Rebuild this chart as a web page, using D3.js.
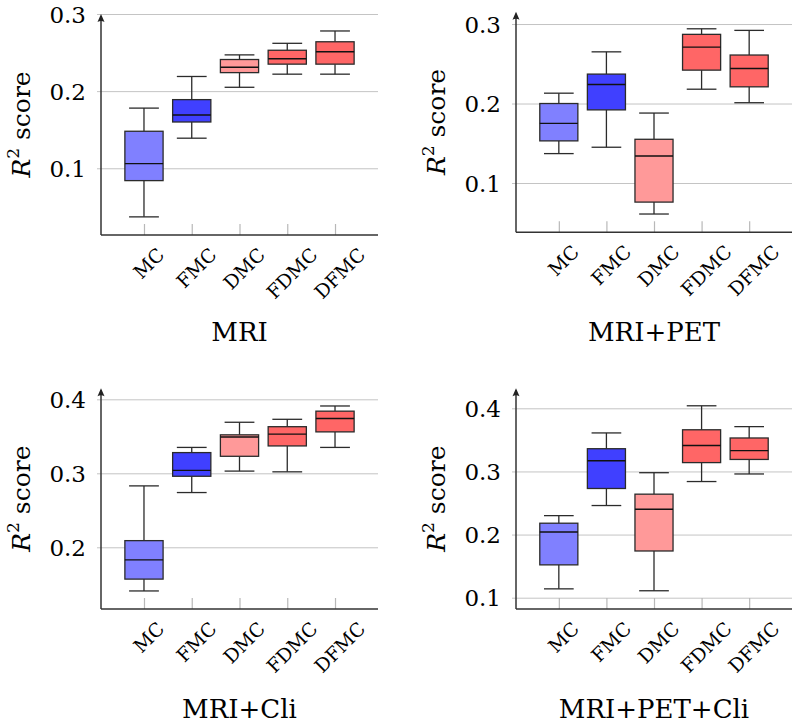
<!DOCTYPE html>
<html>
<head>
<meta charset="utf-8">
<script src="https://cdn.jsdelivr.net/npm/d3@7"></script>
<style>
  body { margin: 0; background: #fff; }
  svg { display: block; }
  svg text { font-family: "DejaVu Serif", "Liberation Serif", "Noto Serif", serif !important; fill: #000; }
</style>
</head>
<body>
<svg id="chart" width="800" height="724"></svg>
<script>
// ---------- data ----------
const categories = ["MC", "FMC", "DMC", "FDMC", "DFMC"];
const panelTitles = ["MRI", "MRI+PET", "MRI+Cli", "MRI+PET+Cli"];
// each entry: [lower whisker, Q1, median, Q3, upper whisker]
const mriStats = [
  [0.037, 0.084, 0.106, 0.148, 0.178],
  [0.139, 0.160, 0.169, 0.189, 0.219],
  [0.205, 0.224, 0.231, 0.241, 0.247],
  [0.222, 0.235, 0.242, 0.253, 0.262],
  [0.222, 0.235, 0.251, 0.264, 0.278]
];
const mriPetStats = [
  [0.137, 0.153, 0.175, 0.200, 0.213],
  [0.145, 0.192, 0.224, 0.237, 0.265],
  [0.061, 0.076, 0.134, 0.155, 0.188],
  [0.218, 0.242, 0.271, 0.287, 0.294],
  [0.201, 0.221, 0.244, 0.261, 0.292]
];
const mriCliStats = [
  [0.141, 0.157, 0.183, 0.209, 0.283],
  [0.274, 0.296, 0.304, 0.328, 0.335],
  [0.303, 0.323, 0.349, 0.352, 0.369],
  [0.302, 0.337, 0.353, 0.363, 0.373],
  [0.335, 0.356, 0.374, 0.384, 0.391]
];
const mriPetCliStats = [
  [0.114, 0.152, 0.204, 0.218, 0.230],
  [0.246, 0.273, 0.317, 0.336, 0.361],
  [0.111, 0.174, 0.240, 0.264, 0.298],
  [0.284, 0.314, 0.341, 0.366, 0.404],
  [0.296, 0.319, 0.333, 0.353, 0.371]
];
const yTicks1 = [0.1, 0.2, 0.3];
const yTicks2 = [0.1, 0.2, 0.3];
const yTicks3 = [0.2, 0.3, 0.4];
const yTicks4 = [0.1, 0.2, 0.3, 0.4];
const yDomain1 = [0.0135, 0.3];
const yDomain2 = [0.038, 0.3155];
const yDomain3 = [0.1166, 0.4149];
const yDomain4 = [0.0821, 0.4317];

// ---------- style / layout ----------
const boxColors = ["#8080ff", "#4040ff", "#ff9999", "#ff6666", "#ff6666"];
const panels = [
  { stats: mriStats,       ticks: yTicks1, domain: yDomain1, title: panelTitles[0], x0: 101, x1: 378, y0: 14,    y1: 235, titleY: 341 },
  { stats: mriPetStats,    ticks: yTicks2, domain: yDomain2, title: panelTitles[1], x0: 516, x1: 792, y0: 11.7,  y1: 232.3, titleY: 341 },
  { stats: mriCliStats,    ticks: yTicks3, domain: yDomain3, title: panelTitles[2], x0: 101, x1: 378, y0: 388.3, y1: 609, titleY: 718 },
  { stats: mriPetCliStats, ticks: yTicks4, domain: yDomain4, title: panelTitles[3], x0: 516, x1: 792, y0: 388.3, y1: 609, titleY: 718 }
];

const svg = d3.select("#chart");

panels.forEach(p => {
  const g = svg.append("g");
  const x = d3.scalePoint().domain(categories).range([p.x0, p.x1]).padding(0.9);
  const y = d3.scaleLinear().domain(p.domain).range([p.y1, p.y0]);
  const step = x.step();
  const boxW = step * 0.8;
  const capW = boxW * 0.78;

  // y grid + tick labels
  const yAxis = d3.axisLeft(y).tickValues(p.ticks).tickFormat(d3.format(".1f"))
    .tickSize(-(p.x1 - p.x0)).tickSizeOuter(0).tickPadding(15);
  const yg = g.append("g").attr("transform", `translate(${p.x0},0)`).call(yAxis);
  yg.select(".domain").remove();
  yg.selectAll(".tick line").attr("x1", -4).attr("stroke", "#c4c4c4").attr("stroke-width", 1);
  yg.selectAll(".tick text").attr("font-size", 23).attr("fill", "#000").attr("dy", "0.36em");

  // x ticks (inward, gray) + labels
  const xAxis = d3.axisBottom(x).tickSize(-11).tickSizeOuter(0).tickPadding(0);
  const xg = g.append("g").attr("transform", `translate(0,${p.y1})`).call(xAxis);
  xg.select(".domain").remove();
  xg.selectAll(".tick line").attr("stroke", "#b8b8b8").attr("stroke-width", 1.2);
  xg.selectAll(".tick text")
    .attr("font-size", 19).attr("fill", "#000")
    .attr("text-anchor", "middle").attr("dy", null).attr("y", null)
    .attr("dominant-baseline", "central")
    .each(function() {
      const L = this.getComputedTextLength();
      const H = 14;
      const half = (L + H) * 0.7071 / 2;
      d3.select(this).attr("transform", `translate(4,${11 + half}) rotate(-45)`);
    });

  // boxes
  const bg = g.append("g");
  p.stats.forEach((s, i) => {
    const cx = x(categories[i]);
    const [lo, q1, med, q3, hi] = s;
    const stroke = "#2b2b2b";
    bg.append("line").attr("x1", cx).attr("x2", cx).attr("y1", y(hi)).attr("y2", y(q3))
      .attr("stroke", stroke).attr("stroke-width", 1.3);
    bg.append("line").attr("x1", cx).attr("x2", cx).attr("y1", y(q1)).attr("y2", y(lo))
      .attr("stroke", stroke).attr("stroke-width", 1.3);
    bg.append("line").attr("x1", cx - capW / 2).attr("x2", cx + capW / 2).attr("y1", y(hi)).attr("y2", y(hi))
      .attr("stroke", stroke).attr("stroke-width", 1.3);
    bg.append("line").attr("x1", cx - capW / 2).attr("x2", cx + capW / 2).attr("y1", y(lo)).attr("y2", y(lo))
      .attr("stroke", stroke).attr("stroke-width", 1.3);
    bg.append("rect").attr("x", cx - boxW / 2).attr("y", y(q3)).attr("width", boxW).attr("height", y(q1) - y(q3))
      .attr("fill", boxColors[i]).attr("stroke", stroke).attr("stroke-width", 1.3);
    bg.append("line").attr("x1", cx - boxW / 2).attr("x2", cx + boxW / 2).attr("y1", y(med)).attr("y2", y(med))
      .attr("stroke", "#111").attr("stroke-width", 1.4);
  });

  // axis lines
  g.append("line").attr("x1", p.x0).attr("x2", p.x1).attr("y1", p.y1).attr("y2", p.y1)
    .attr("stroke", "#333").attr("stroke-width", 1.5);
  g.append("line").attr("x1", p.x0).attr("x2", p.x0).attr("y1", p.y1).attr("y2", p.y0 + 2)
    .attr("stroke", "#333").attr("stroke-width", 1.5);
  // arrow head
  g.append("path")
    .attr("d", `M${p.x0},${p.y0} L${p.x0 - 3.5},${p.y0 + 8} Q${p.x0},${p.y0 + 6} ${p.x0 + 3.5},${p.y0 + 8} Z`)
    .attr("fill", "#222");

  // y label
  const cy = (p.y0 + p.y1) / 2;
  const yl = g.append("text")
    .attr("transform", `translate(${p.x0 - 71},${cy}) rotate(-90)`)
    .attr("text-anchor", "middle").attr("font-size", 25);
  yl.append("tspan").attr("font-style", "italic").text("R");
  yl.append("tspan").attr("font-size", 17).attr("dy", -11).text("2");
  yl.append("tspan").attr("dy", 11).text(" score");

  // title
  g.append("text").attr("x", (p.x0 + p.x1) / 2).attr("y", p.titleY)
    .attr("text-anchor", "middle").attr("font-size", 26).text(p.title);
});
</script>
</body>
</html>
